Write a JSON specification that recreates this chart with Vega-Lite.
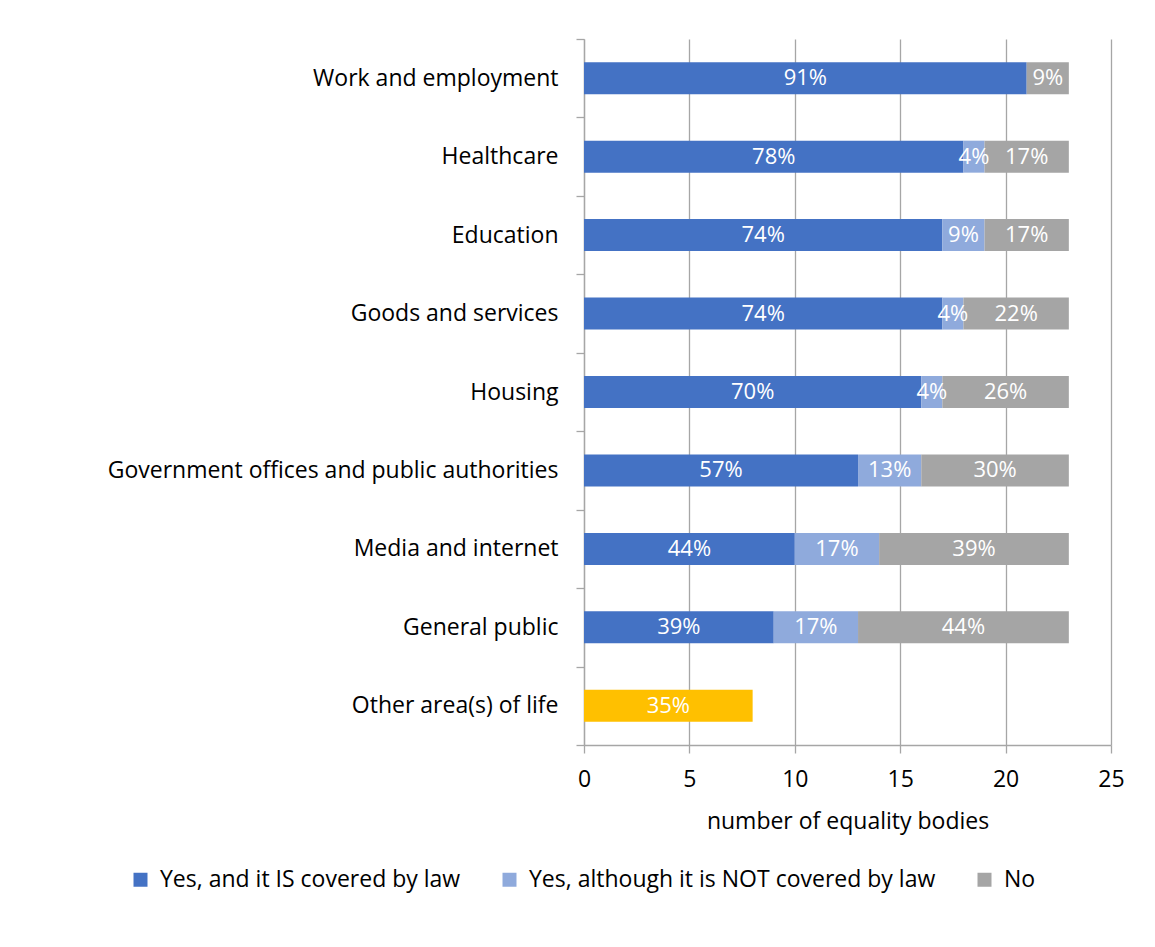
{
  "$schema": "https://vega.github.io/schema/vega-lite/v6.json",
  "width": 527,
  "height": 706,
  "autosize": {"type": "none"},
  "padding": {"left": 584, "top": 39, "right": 44, "bottom": 202},
  "background": "#ffffff",
  "config": {
    "font": "Open Sans",
    "view": {"stroke": null},
    "text": {"font": "Open Sans"}
  },
  "data": {
    "values": [
      {"cat": "Work and employment", "series": "Yes, and it IS covered by law", "k": 1, "count": 21, "pct": "91%"},
      {"cat": "Work and employment", "series": "No", "k": 3, "count": 2, "pct": "9%"},
      {"cat": "Healthcare", "series": "Yes, and it IS covered by law", "k": 1, "count": 18, "pct": "78%"},
      {"cat": "Healthcare", "series": "Yes, although it is NOT covered by law", "k": 2, "count": 1, "pct": "4%"},
      {"cat": "Healthcare", "series": "No", "k": 3, "count": 4, "pct": "17%"},
      {"cat": "Education", "series": "Yes, and it IS covered by law", "k": 1, "count": 17, "pct": "74%"},
      {"cat": "Education", "series": "Yes, although it is NOT covered by law", "k": 2, "count": 2, "pct": "9%"},
      {"cat": "Education", "series": "No", "k": 3, "count": 4, "pct": "17%"},
      {"cat": "Goods and services", "series": "Yes, and it IS covered by law", "k": 1, "count": 17, "pct": "74%"},
      {"cat": "Goods and services", "series": "Yes, although it is NOT covered by law", "k": 2, "count": 1, "pct": "4%"},
      {"cat": "Goods and services", "series": "No", "k": 3, "count": 5, "pct": "22%"},
      {"cat": "Housing", "series": "Yes, and it IS covered by law", "k": 1, "count": 16, "pct": "70%"},
      {"cat": "Housing", "series": "Yes, although it is NOT covered by law", "k": 2, "count": 1, "pct": "4%"},
      {"cat": "Housing", "series": "No", "k": 3, "count": 6, "pct": "26%"},
      {"cat": "Government offices and public authorities", "series": "Yes, and it IS covered by law", "k": 1, "count": 13, "pct": "57%"},
      {"cat": "Government offices and public authorities", "series": "Yes, although it is NOT covered by law", "k": 2, "count": 3, "pct": "13%"},
      {"cat": "Government offices and public authorities", "series": "No", "k": 3, "count": 7, "pct": "30%"},
      {"cat": "Media and internet", "series": "Yes, and it IS covered by law", "k": 1, "count": 10, "pct": "44%"},
      {"cat": "Media and internet", "series": "Yes, although it is NOT covered by law", "k": 2, "count": 4, "pct": "17%"},
      {"cat": "Media and internet", "series": "No", "k": 3, "count": 9, "pct": "39%"},
      {"cat": "General public", "series": "Yes, and it IS covered by law", "k": 1, "count": 9, "pct": "39%"},
      {"cat": "General public", "series": "Yes, although it is NOT covered by law", "k": 2, "count": 4, "pct": "17%"},
      {"cat": "General public", "series": "No", "k": 3, "count": 10, "pct": "44%"},
      {"cat": "Other area(s) of life", "series": "Other", "k": 1, "count": 8, "pct": "35%"}
    ]
  },
  "transform": [
    {"stack": "count", "groupby": ["cat"], "sort": [{"field": "k", "order": "ascending"}], "as": ["x0", "x1"]}
  ],
  "encoding": {
    "y": {
      "field": "cat",
      "type": "nominal",
      "sort": ["Work and employment", "Healthcare", "Education", "Goods and services", "Housing", "Government offices and public authorities", "Media and internet", "General public", "Other area(s) of life"],
      "scale": {"paddingInner": 0, "paddingOuter": 0},
      "axis": {
        "title": null,
        "domain": true,
        "domainColor": "#A6A6A6",
        "domainWidth": 1.3,
        "ticks": true,
        "tickBand": "extent",
        "tickColor": "#A6A6A6",
        "tickWidth": 1.3,
        "tickSize": 8,
        "labelFont": "Open Sans",
        "labelFontSize": 23,
        "labelColor": "#000000",
        "labelPadding": 18,
        "labelLimit": 600,
        "grid": false
      }
    }
  },
  "layer": [
    {
      "mark": {"type": "bar", "height": {"band": 0.408}},
      "encoding": {
        "x": {
          "field": "x0",
          "type": "quantitative",
          "scale": {"domain": [0, 25], "nice": false},
          "axis": {
            "title": "number of equality bodies",
            "titleFont": "Open Sans",
            "titleFontSize": 23,
            "titleFontWeight": "normal",
            "titleColor": "#000000",
            "titlePadding": 19,
            "values": [0, 5, 10, 15, 20, 25],
            "domain": true,
            "domainColor": "#A6A6A6",
            "domainWidth": 1.3,
            "ticks": true,
            "tickColor": "#A6A6A6",
            "tickWidth": 1.3,
            "tickSize": 8,
            "labelFont": "Open Sans",
            "labelFontSize": 23,
            "labelColor": "#000000",
            "labelPadding": 15,
            "labelFlush": false,
            "grid": true,
            "gridColor": "#A6A6A6",
            "gridWidth": 1.3
          }
        },
        "x2": {"field": "x1"},
        "color": {
          "field": "series",
          "type": "nominal",
          "scale": {
            "domain": ["Yes, and it IS covered by law", "Yes, although it is NOT covered by law", "No", "Other"],
            "range": ["#4472C4", "#8FAADC", "#A5A5A5", "#FFC000"]
          },
          "legend": {
            "title": null,
            "values": ["Yes, and it IS covered by law", "Yes, although it is NOT covered by law", "No"],
            "orient": "none",
            "legendX": -455,
            "legendY": 829,
            "padding": 0,
            "direction": "horizontal",
            "columns": 3,
            "columnPadding": 37,
            "symbolType": "square",
            "symbolSize": 196,
            "symbolStrokeWidth": 0,
            "labelFont": "Open Sans",
            "labelFontSize": 23,
            "labelColor": "#000000",
            "labelOffset": 8,
            "labelLimit": 600
          }
        }
      }
    },
    {
      "transform": [
        {"fold": ["x0", "x1"], "as": ["edge", "pos"]}
      ],
      "mark": {"type": "text", "color": "#ffffff", "fontSize": 22, "font": "Open Sans", "baseline": "middle", "align": "center"},
      "encoding": {
        "x": {"field": "pos", "aggregate": "mean", "type": "quantitative"},
        "detail": {"field": "series", "type": "nominal"},
        "text": {"field": "pct", "type": "nominal"}
      }
    }
  ]
}
